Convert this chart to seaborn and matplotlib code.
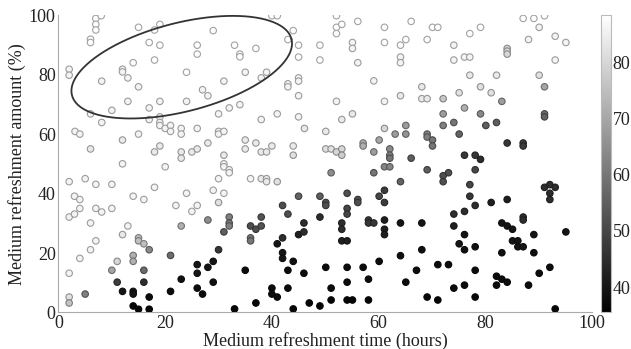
import numpy as np
import pandas as pd
import matplotlib
matplotlib.use("Agg")
import matplotlib.pyplot as plt
import seaborn as sns

# upper-left block (open circles)
tl_time = [2, 2, 7, 8, 7, 7, 6, 6, 8.1, 6, 8.1, 3.1, 4, 6, 10, 12, 12, 13, 14, 15,
           15, 13, 12, 15, 17, 18, 19, 19, 18, 17, 19, 17, 19, 19, 19, 20, 21, 21, 19, 18,
           23, 23, 23, 23, 25, 26, 26, 24, 24, 26, 26, 27, 28, 29, 31, 30, 32, 30, 30, 31,
           28, 31, 33, 34, 34, 35, 34, 35, 35, 37, 37, 38, 39, 38, 38, 39, 40, 40, 41, 41,
           43, 44, 43, 43, 45, 45, 45, 45, 45, 45, 44, 44, 46.1, 49, 49]
tl_amount = [81.8, 79.8, 98.9, 99.8, 96.9, 95, 91.9, 90.8, 77.8, 66.8, 63.9, 60.9, 60, 55, 68, 81.8, 80.9, 78.9, 84, 95.9,
             75.9, 71, 58, 60, 90.8, 95, 96.9, 89.9, 84.9, 68.8, 71, 64.9, 65.8, 63.9, 62.9, 61.9, 62.9, 60.9, 56, 54,
             61.9, 60, 54, 51.9, 54, 55, 61.9, 80.8, 71, 89.9, 86.9, 74.9, 72.9, 94.8, 77.8, 66.8, 68.8, 60.9, 60, 60.9,
             57, 52.9, 89.9, 86.9, 86, 80.8, 69.9, 58, 55, 88.8, 57, 78.9, 80.8, 64.9, 54, 54, 56, 99.8, 99.8, 66.8,
             91.8, 94.8, 76.9, 75.9, 89.9, 85.9, 78.9, 77.8, 72.9, 65.8, 56, 52.9, 61.9, 89.9, 84.9]
tl_value = [86, 86, 88, 88, 88, 88, 88, 88, 86, 86, 86, 86, 86, 84, 86, 86, 86, 86, 88, 88,
            86, 86, 84, 86, 88, 88, 88, 88, 88, 86, 86, 86, 86, 86, 86, 86, 86, 86, 84, 84,
            86, 86, 84, 84, 84, 84, 86, 88, 86, 88, 88, 86, 86, 88, 86, 86, 86, 86, 86, 86,
            84, 84, 88, 88, 88, 86, 86, 84, 84, 88, 84, 86, 86, 86, 84, 84, 84, 88, 88, 86,
            88, 88, 86, 86, 88, 88, 86, 86, 86, 86, 84, 82, 84, 88, 88]

# upper-right block
tr_time = [52.1, 52.1, 53.1, 52.1, 56.1, 55.1, 55.1, 56.1, 52.1, 53.1, 55.1, 59.1, 61.1, 61.1, 61.1, 64.1,
           64.1, 64.1, 65.1, 66.1, 64.1, 68.1, 68.1, 69.1, 70.1, 71.1, 69.1, 74.1, 74.1, 76.1, 77.1, 77.1,
           79.1, 77.1, 82.1, 79.1, 81.1, 75.1, 84.1, 84.1, 84.1, 87.1, 89.1, 91.1, 90.1, 88.1, 93.1, 95.1,
           93.1, 90.1, 50.1, 50.1, 51.1, 52.1, 53.1, 53.1, 61.1, 72.1, 76.1, 83.1, 91.1, 91.1, 91.1, 57.1,
           57.1, 60.1, 59.1, 62.1, 62.1, 62.1, 66.1, 63.1, 65.1, 65.1, 69.1, 69.1, 70.1, 70.1, 72.1, 72.1,
           74.1, 75.1, 79.1, 80.1, 82.1, 76.1, 78.1, 79.1, 84.1, 87.1, 87.1]
tr_amount = [99.8, 95.9, 96.9, 93.8, 97.9, 90.8, 88.8, 84, 71, 64.9, 66.8, 77.9, 95.9, 90.8, 71, 89.9,
             85.9, 84, 91.8, 97.9, 72.9, 75.9, 71.9, 71.9, 95.9, 95.9, 91.8, 89.9, 84.9, 85.9, 85.9, 93.8,
             95.9, 79.8, 79.8, 75.9, 73.9, 73.9, 88.8, 87.9, 86.9, 98.9, 98.9, 99.8, 95.9, 91.8, 92.9, 90.8,
             84.9, 79.8, 60.9, 55, 55, 54, 55, 52.9, 61.9, 71.9, 68.8, 71, 75.9, 66.8, 65.8, 57,
             56, 58, 54, 55, 52.9, 51.9, 51.9, 60, 60, 62.9, 60, 59, 58, 56, 66.8, 62.9,
             63.9, 60, 66.8, 62.9, 63.9, 52.9, 52.9, 51.5, 57, 57, 56]
tr_value = [88, 88, 88, 88, 88, 86, 86, 86, 86, 84, 84, 86, 88, 88, 86, 88,
            86, 86, 88, 88, 84, 84, 84, 84, 88, 88, 88, 86, 86, 86, 86, 88,
            88, 84, 84, 82, 82, 82, 80, 80, 80, 88, 88, 88, 86, 86, 86, 86,
            86, 82, 84, 82, 82, 80, 80, 78, 80, 77, 72, 68, 70, 58, 56, 72,
            72, 70, 68, 64, 62, 60, 55, 68, 66, 68, 62, 62, 60, 60, 68, 62,
            60, 56, 64, 55, 55, 47, 47, 45, 47, 48, 48]

# lower-left block
bl_time = [2, 2, 3, 3, 4, 4, 5, 4, 2, 2, 2, 5, 6, 6, 7, 7, 7, 8.1, 10, 10,
           10, 11, 11, 12, 12, 12, 13, 14, 14, 14, 14, 14, 14, 15, 15, 15, 16, 16, 16, 16,
           17, 17, 17, 18, 20, 21, 21, 22, 23, 23, 24, 25, 26, 26, 26, 26, 27, 28, 28, 29,
           29, 29, 30, 30, 30, 31, 31, 31, 31, 32, 32, 32, 32, 32, 33, 35, 36, 36, 36, 36,
           37, 37, 38, 39, 39, 38, 38, 40, 40, 41, 41, 41, 42, 42, 42, 42, 43, 43, 43, 44,
           44, 45, 45, 46, 46, 46, 47, 49, 49, 49]
bl_amount = [44, 32.1, 39.1, 33.1, 38, 35, 45, 18.2, 13.2, 5.2, 3.2, 6.2, 30.1, 21.1, 43.1, 35, 24.1, 33.8, 43.1, 35,
             14.2, 17.2, 10.2, 50, 26.2, 7.1, 29.1, 39.1, 19.2, 17.2, 7.1, 6.2, 2.2, 25.1, 24.1, 1.1, 38, 23.1, 14.2, 10.2,
             21.1, 5.2, 1.1, 42.1, 49, 19.2, 7.1, 36, 29.1, 11.2, 40.1, 34, 36, 16.1, 13.2, 8.2, 6.2, 31.1, 15.2, 41.1,
             17.2, 10.2, 45, 37, 21.1, 50, 49, 40.1, 27.1, 48, 47, 32.1, 30.1, 29.1, 1.2, 14.2, 45, 29.1, 25.1, 24.1,
             28, 3.2, 45, 45, 44, 32.1, 29.1, 8.2, 6.2, 5.2, 44, 23.1, 36, 25.1, 20.1, 18.2, 33.1, 14.2, 8.2, 17.2,
             1.2, 39.1, 26.2, 30.1, 27.1, 13.2, 3.2, 39.1, 32.1, 2.2]
bl_value = [86, 86, 86, 86, 86, 86, 86, 86, 86, 82, 76, 62, 86, 86, 86, 86, 86, 86, 86, 86,
            70, 80, 48, 86, 84, 40, 86, 86, 72, 72, 40, 40, 37, 75, 75, 37, 86, 75, 58, 45,
            64, 38, 37, 86, 86, 58, 38, 86, 72, 39, 86, 86, 86, 40, 40, 38, 38, 65, 40, 86,
            40, 39, 86, 82, 47, 86, 86, 86, 55, 86, 86, 62, 60, 62, 37, 38, 86, 52, 60, 60,
            52, 37, 84, 84, 84, 53, 53, 38, 38, 38, 82, 40, 52, 45, 40, 40, 52, 38, 38, 39,
            37, 56, 42, 45, 45, 38, 37, 55, 45, 37]

# lower-right block
br_time = [51.1, 59.1, 61.1, 62.1, 69.1, 72.1, 73.1, 72.1, 78.1, 64.1, 77.1, 50.1, 50.1, 54.1, 54.1, 54.1,
           56.1, 56.1, 60.1, 61.1, 61.1, 64.1, 58.1, 58.1, 59.1, 61.1, 61.1, 61.1, 53.1, 53.1, 53.1, 54.1,
           68.1, 74.1, 74.1, 76.1, 77.1, 78.1, 76.1, 75.1, 76.1, 78.1, 81.1, 84.1, 87.1, 87.1, 83.1, 84.1,
           85.1, 85.1, 86.1, 86.1, 87.1, 89.1, 83.1, 89.1, 91.1, 92.1, 93.1, 92.1, 92.1, 95.1, 92.1, 90.1,
           82.1, 83.1, 84.1, 82.1, 88.1, 78.1, 78.1, 74.1, 76.1, 71.1, 73.1, 71.1, 69.1, 67.1, 68.1, 64.1,
           65.1, 60.1, 58.1, 57.1, 54.1, 54.1, 50.1, 51.1, 51.1, 54.1, 55.1, 58.1, 93.1]
br_amount = [47, 47, 49, 49, 48, 46, 47, 44, 48, 44, 43, 37, 36, 40.1, 35, 33.1,
             38, 37, 39.1, 41.1, 37, 30.1, 31.1, 30.1, 30.1, 31.1, 28, 26.2, 30.1, 28, 24.1, 24.1,
             30.1, 33.1, 29.1, 34, 39.1, 36, 26.2, 23.1, 21.1, 22.1, 37, 38, 32.1, 31.1, 30.1, 29.1,
             28, 24.1, 24.1, 22.1, 22.1, 26.2, 20.1, 20.1, 42.1, 43, 42.1, 40.1, 38, 27.1, 15.2, 13.2,
             12.2, 11.2, 10.2, 9.2, 9.2, 14.2, 5.2, 8.2, 9.2, 16.1, 16.1, 4.2, 5.2, 14.2, 21.1, 19.1,
             10.2, 17.2, 11.2, 15.2, 15.2, 10.2, 15.2, 8.2, 4.2, 4.2, 4.2, 4.2, 1.2]
br_value = [65, 60, 63, 63, 55, 52, 52, 52, 50, 56, 50, 52, 52, 52, 50, 50,
            52, 52, 50, 48, 48, 40, 47, 47, 47, 42, 42, 42, 45, 45, 42, 42,
            40, 45, 42, 45, 47, 45, 40, 40, 39, 39, 42, 42, 45, 45, 40, 40,
            40, 40, 40, 40, 40, 40, 39, 39, 45, 45, 45, 45, 45, 40, 38, 38,
            38, 38, 38, 38, 38, 38, 37, 38, 38, 38, 38, 37, 37, 38, 39, 39,
            38, 38, 38, 38, 38, 38, 38, 38, 37, 37, 37, 37, 37]

cbar_ticks = [40, 50, 60, 70, 80]
axis_ticks = [0, 20, 40, 60, 80, 100]

# highlighted region (centre and conjugate half-axes, data units)
ell_center = (23.1, 82.5)
ell_a = (20.57, 9.47)
ell_b = (-2.07, 14.42)

df = pd.DataFrame({
    "time": tl_time + tr_time + bl_time + br_time,
    "amount": tl_amount + tr_amount + bl_amount + br_amount,
    "value": tl_value + tr_value + bl_value + br_value,
})

sns.set_style("white")
plt.rcParams["font.family"] = ["Liberation Serif", "DejaVu Serif"]

cmap = plt.get_cmap("gray")
norm = plt.Normalize(35.5, 88.4)
edges = [cmap(norm(v) * 0.64) for v in df["value"]]

fig = plt.figure(figsize=(6.31, 3.49), dpi=100)
ax = fig.add_axes([0.0927, 0.1046, 0.8455, 0.852])
sns.scatterplot(data=df, x="time", y="amount", hue="value", palette="gray",
                hue_norm=norm, edgecolor=edges, linewidth=0.8, s=22,
                legend=False, ax=ax, zorder=3)

t = np.linspace(0, 2 * np.pi, 300)
ax.plot(ell_center[0] + ell_a[0] * np.cos(t) + ell_b[0] * np.sin(t),
        ell_center[1] + ell_a[1] * np.cos(t) + ell_b[1] * np.sin(t),
        color="#333333", lw=1.3, clip_on=False, zorder=4)

ax.set_xlim(0, 100)
ax.set_ylim(0, 100)
ax.set_xticks(axis_ticks)
ax.set_yticks(axis_ticks)
for side in ["top", "right"]:
    ax.spines[side].set_visible(False)
for side in ["left", "bottom"]:
    ax.spines[side].set_color("#aaaaaa")
ax.tick_params(direction="in", length=3, color="#999999", labelsize=13,
               labelcolor="#222222", pad=2)
ax.set_xlabel("Medium refreshment time (hours)", fontsize=13, color="#222222", labelpad=0)
ax.set_ylabel("Medium refreshment amount (%)", fontsize=13, color="#222222", labelpad=2)

cax = fig.add_axes([0.9525, 0.1046, 0.0158, 0.852])
sm = plt.cm.ScalarMappable(norm=norm, cmap=cmap)
cb = fig.colorbar(sm, cax=cax, ticks=cbar_ticks)
cb.outline.set_edgecolor("#bbbbbb")
cax.tick_params(direction="in", length=2.5, color="#888888", labelsize=13,
                labelcolor="#222222", pad=1)

fig.savefig("out.png", dpi=100)
